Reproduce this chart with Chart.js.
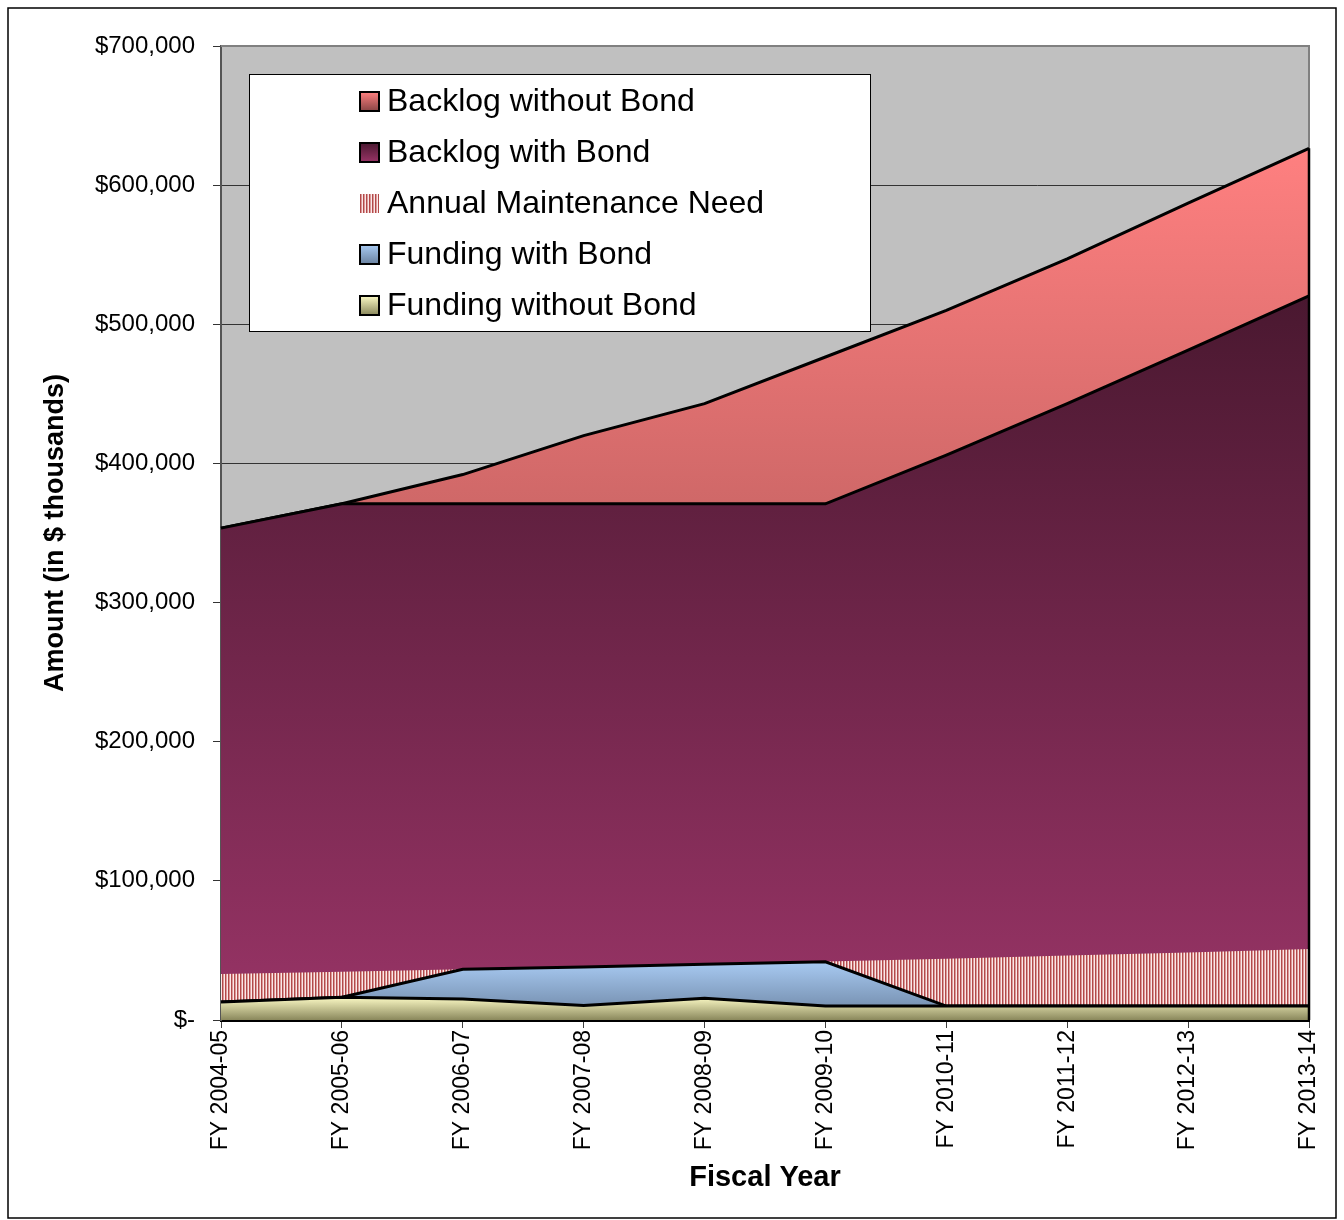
<!DOCTYPE html>
<html>
<head>
<meta charset="utf-8">
<script src="https://cdn.jsdelivr.net/npm/chart.js@4.4.0/dist/chart.umd.min.js"></script>
<style>
  body { margin: 0; background: #fff; }
  #wrap { width: 1344px; height: 1220px; }
</style>
</head>
<body>
<div id="wrap"><canvas id="chartBacklog" width="1344" height="1220"></canvas></div>
<script>
const fiscalYears = [
  'FY 2004-05', 'FY 2005-06', 'FY 2006-07', 'FY 2007-08', 'FY 2008-09',
  'FY 2009-10', 'FY 2010-11', 'FY 2011-12', 'FY 2012-13', 'FY 2013-14'
];

// valores em $ mil
const backlogWithoutBond = [353500, 371000, 392000, 420000, 443000, 476500, 510000, 547000, 587000, 626500];
const backlogWithBond    = [353500, 371000, 371000, 371000, 371000, 371000, 406000, 443000, 481500, 520500];
const maintenanceNeed    = [33000, 34700, 36500, 38300, 40200, 42100, 44100, 46300, 48600, 51000];
const fundingWithBond    = [13000, 16300, 36500, 38100, 40000, 41800, 10000, 10000, 10000, 10000];
const fundingWithoutBond = [13000, 16300, 15100, 10500, 15600, 10000, 10000, 10000, 10000, 10000];

const yTicks = [0, 100000, 200000, 300000, 400000, 500000, 600000, 700000];

const fontFamily = '"Liberation Sans", Arial, sans-serif';

// gradiente vertical de cima para baixo
function makeGradient(ctx, top, bottom, c1, c2) {
  const g = ctx.createLinearGradient(0, top, 0, bottom);
  g.addColorStop(0, c1);
  g.addColorStop(1, c2);
  return g;
}

function stripePattern(ctx) {
  const tile = document.createElement('canvas');
  tile.width = 3;
  tile.height = 4;
  const t = tile.getContext('2d');
  t.fillStyle = '#b24a4a'; t.fillRect(0, 0, 1, 4);
  t.fillStyle = '#dc9a9a'; t.fillRect(1, 0, 1, 4);
  t.fillStyle = '#fae8e8'; t.fillRect(2, 0, 1, 4);
  return ctx.createPattern(tile, 'repeat');
}

const seriesStyles = [
  { label: 'Backlog without Bond', data: backlogWithoutBond, top: '#ff8080', bottom: '#8a4545' },
  { label: 'Backlog with Bond', data: backlogWithBond, top: '#4a1830', bottom: '#983466' },
  { label: 'Annual Maintenance Need', data: maintenanceNeed, pattern: true },
  { label: 'Funding with Bond', data: fundingWithBond, top: '#a8caf2', bottom: '#6a82a0' },
  { label: 'Funding without Bond', data: fundingWithoutBond, top: '#fbf9c4', bottom: '#8a885c' }
];

function areaFill(style) {
  return function (context) {
    const chart = context.chart;
    const { ctx, chartArea, scales } = chart;
    if (!chartArea) return null;
    if (style.pattern) return stripePattern(ctx);
    const top = scales.y.getPixelForValue(Math.max(...style.data));
    const bottom = scales.y.getPixelForValue(0);
    return makeGradient(ctx, top, bottom, style.top, style.bottom);
  };
}

const datasets = seriesStyles.map((s, i) => ({
  label: s.label,
  data: s.data,
  fill: 'origin',
  backgroundColor: areaFill(s),
  borderColor: '#000',
  borderWidth: s.pattern ? 0 : 3,
  pointRadius: 0,
  tension: 0,
  order: seriesStyles.length - i
}));

const plotBackground = {
  id: 'plotBackground',
  beforeDraw(chart) {
    const { ctx, chartArea: a } = chart;
    ctx.save();
    ctx.fillStyle = '#c0c0c0';
    ctx.fillRect(a.left, a.top, a.right - a.left, a.bottom - a.top);
    ctx.restore();
  },
  beforeDatasetsDraw(chart) {
    const { ctx, chartArea: a } = chart;
    ctx.save();
    ctx.strokeStyle = '#808080';
    ctx.lineWidth = 2;
    ctx.beginPath();
    ctx.moveTo(a.left, a.top);
    ctx.lineTo(a.right, a.top);
    ctx.lineTo(a.right, a.bottom);
    ctx.stroke();
    ctx.restore();
  },
  afterDatasetsDraw(chart) {
    const { ctx, chartArea: a, scales } = chart;
    const last = backlogWithoutBond[backlogWithoutBond.length - 1];
    ctx.save();
    ctx.strokeStyle = '#000';
    ctx.lineWidth = 2.5;
    ctx.beginPath();
    ctx.moveTo(a.right, scales.y.getPixelForValue(last));
    ctx.lineTo(a.right, a.bottom);
    ctx.stroke();
    ctx.restore();
  },
  afterDraw(chart) {
    const { ctx } = chart;
    ctx.save();
    ctx.strokeStyle = '#000';
    ctx.lineWidth = 1.5;
    ctx.strokeRect(8, 8, 1328, 1210);
    ctx.restore();
  }
};

// legenda em caixa branca dentro da area do grafico
const boxLegend = {
  id: 'boxLegend',
  afterDatasetsDraw(chart) {
    const { ctx } = chart;
    const box = { x: 249, y: 74, w: 621, h: 257 };
    ctx.save();
    ctx.fillStyle = '#fff';
    ctx.fillRect(box.x, box.y, box.w, box.h);
    ctx.strokeStyle = '#000';
    ctx.lineWidth = 1;
    ctx.strokeRect(box.x + 0.5, box.y + 0.5, box.w, box.h);
    ctx.font = '32px ' + fontFamily;
    ctx.textBaseline = 'middle';
    ctx.fillStyle = '#000';
    seriesStyles.forEach((s, i) => {
      const cy = box.y + 28 + i * 51;
      const mx = 360, my = cy - 10, ms = 19;
      if (s.pattern) {
        ctx.fillStyle = stripePattern(ctx);
        ctx.fillRect(mx, my, ms, ms);
      } else {
        ctx.fillStyle = makeGradient(ctx, my, my + ms, s.top, s.bottom);
        ctx.fillRect(mx, my, ms, ms);
        ctx.strokeStyle = '#000';
        ctx.lineWidth = 2;
        ctx.strokeRect(mx, my, ms, ms);
      }
      ctx.fillStyle = '#000';
      ctx.fillText(s.label, 387, cy);
    });
    ctx.restore();
  }
};

const ctx = document.getElementById('chartBacklog').getContext('2d');
new Chart(ctx, {
  type: 'line',
  data: { labels: fiscalYears, datasets: datasets },
  options: {
    responsive: false,
    animation: false,
    events: [],
    layout: { padding: { left: 10, right: 35, top: 46, bottom: 10 } },
    plugins: {
      legend: { display: false },
      tooltip: { enabled: false }
    },
    scales: {
      x: {
        offset: false,
        afterFit: (scale) => { scale.height = 190; },
        grid: { drawOnChartArea: false, drawTicks: true, tickLength: 8, color: '#404040' },
        border: { color: '#000', width: 3 },
        ticks: {
          autoSkip: false, minRotation: 90, maxRotation: 90, padding: 2,
          color: '#000', font: { family: fontFamily, size: 23 }
        },
        title: {
          display: true, text: 'Fiscal Year', color: '#000',
          font: { family: fontFamily, size: 29, weight: 'bold' },
          padding: { top: 0, bottom: 15 }
        }
      },
      y: {
        min: 0,
        max: 700000,
        afterFit: (scale) => { scale.width = 211; },
        afterBuildTicks: (scale) => { scale.ticks = yTicks.map(v => ({ value: v })); },
        grid: { color: '#333', lineWidth: 1, tickLength: 8 },
        border: { color: '#555', width: 2 },
        ticks: {
          padding: 18, color: '#000',
          font: { family: fontFamily, size: 24 },
          callback: (v) => v === 0 ? '$-' : '$' + v.toLocaleString('en-US')
        },
        title: {
          display: true, text: 'Amount (in $ thousands)', color: '#000',
          font: { family: fontFamily, size: 27, weight: 'bold' },
          padding: { top: 29, bottom: 0 }
        }
      }
    }
  },
  plugins: [plotBackground, boxLegend]
});
</script>
</body>
</html>
